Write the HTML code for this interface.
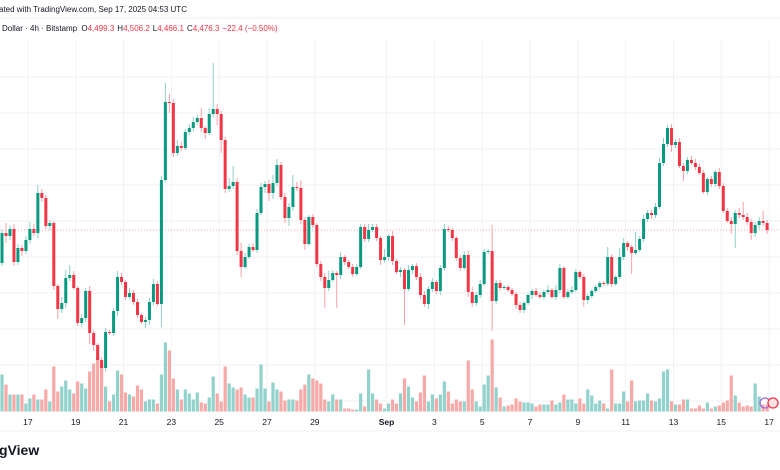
<!DOCTYPE html>
<html><head><meta charset="utf-8"><style>
html,body{margin:0;padding:0;background:#fff;}
svg{display:block;font-family:"Liberation Sans",sans-serif;}
</style></head><body>
<svg id="chart" width="780" height="470" viewBox="0 0 780 470" xmlns="http://www.w3.org/2000/svg">
<rect width="780" height="470" fill="#ffffff"/>
<g id="grid"></g>
<line x1="0" x2="780" y1="230" y2="230" stroke="#f23645" stroke-opacity="0.45" stroke-dasharray="1,2" stroke-width="1"/>
<g id="vol"></g>
<g id="candles"></g>
<g id="xaxis"></g>
<text x="-1" y="12" font-size="8" fill="#131722">ated with TradingView.com, Sep 17, 2025 04:53 UTC</text>
<line x1="0" x2="780" y1="18" y2="18" stroke="#eef0f3"/>
<text x="2" y="31" font-size="8" fill="#131722">Dollar · 4h · Bitstamp <tspan dx="2">O</tspan><tspan fill="#f23645">4,499.3</tspan><tspan dx="3">H</tspan><tspan fill="#f23645">4,506.2</tspan><tspan dx="3">L</tspan><tspan fill="#f23645">4,466.1</tspan><tspan dx="3">C</tspan><tspan fill="#f23645">4,476.3</tspan><tspan dx="3" fill="#f23645">−22.4 (−0.50%)</tspan></text>
<line x1="0" x2="780" y1="431" y2="431" stroke="#eef0f3"/>
<text x="-1" y="455" font-size="14" font-weight="bold" fill="#131722">gView</text>
<g>
<circle cx="765" cy="403" r="5" fill="none" stroke="#9c6ade" stroke-width="1.3"/>
<circle cx="773" cy="403" r="5" fill="#fbe3e4" stroke="#f23645" stroke-width="1.3"/>
</g>
</svg>
<script>
const closes=[4467,4458,4479,4380,4422,4413,4446,4479,4467,4587,
4572,4488,4497,4308,4239,4257,4332,4341,4302,4197,
4212,4293,4167,4131,4086,4062,4170,4167,4233,4335,
4320,4275,4287,4260,4221,4200,4206,4260,4314,4254,
4626,4860,4857,4707,4728,4722,4770,4782,4800,4812,
4782,4767,4824,4839,4824,4746,4599,4608,4620,4413,
4365,4395,4425,4416,4527,4605,4614,4587,4617,4671,
4575,4512,4545,4605,4602,4506,4434,4515,4491,4374,
4335,4302,4326,4347,4341,4395,4380,4365,4344,4365,
4485,4449,4476,4485,4452,4386,4395,4458,4383,4350,
4356,4299,4356,4368,4335,4281,4254,4299,4320,4293,
4362,4479,4476,4452,4392,4362,4401,4290,4257,4281,
4314,4410,4413,4263,4317,4302,4305,4296,4284,4251,
4236,4257,4281,4293,4281,4275,4290,4296,4275,4296,
4362,4275,4290,4296,4350,4335,4266,4278,4293,4305,
4317,4315,4395,4314,4335,4395,4437,4425,4407,4416,
4449,4509,4527,4521,4545,4677,4734,4782,4731,4740,
4668,4653,4686,4677,4665,4647,4590,4629,4614,4650,
4608,4533,4503,4494,4527,4521,4515,4500,4467,4491,
4503,4497,4476];
const firstOpen=4377;
const upperWick=[9,30,12,15,12,9,12,21,15,24,
12,9,9,6,6,18,24,30,12,6,
12,9,15,9,6,9,12,6,9,18,
12,6,15,9,9,6,9,12,15,9,
12,57,24,12,18,12,9,12,15,9,
30,6,18,138,15,9,9,24,48,12,
24,12,9,12,12,12,9,12,24,18,
9,12,12,36,15,24,9,6,9,6,
9,12,27,9,6,15,6,6,9,9,
9,9,18,9,9,6,24,6,15,6,
9,6,15,6,9,12,12,9,12,6,
9,15,9,6,6,9,12,12,15,9,
12,9,6,78,9,9,6,6,6,6,
9,6,6,6,9,9,6,15,6,15,
12,6,9,12,9,6,9,6,6,6,
6,6,30,9,6,27,15,6,6,54,
9,12,9,9,12,15,18,9,12,9,
12,9,9,12,12,12,9,6,9,6,
12,9,9,12,9,15,39,12,9,9,
12,30,9];
const lowerWick=[9,21,12,12,9,15,9,12,9,15,
12,9,12,12,30,12,15,9,6,9,
12,12,33,18,30,18,12,6,9,15,
9,9,6,9,9,6,18,15,9,6,
69,6,30,12,9,9,6,9,12,9,
12,18,6,9,33,39,12,9,9,12,
30,6,6,6,9,6,18,24,18,9,
9,15,24,12,9,12,18,6,9,9,
12,60,9,6,99,12,9,6,9,6,
6,9,9,6,9,15,9,12,12,6,
15,108,6,12,9,12,9,15,9,9,
12,9,6,9,9,9,6,15,12,9,
9,6,6,90,9,9,6,6,6,12,
9,9,6,12,6,6,9,6,6,9,
9,6,6,6,6,6,21,12,6,6,
6,6,6,9,6,6,9,12,63,6,
6,9,9,12,9,6,9,9,21,9,
6,30,9,6,9,6,6,9,9,9,
9,6,6,30,72,9,9,9,21,12,
12,9,12];
const volumes=[37,27,17,17,17,17,8,13,17,12,
12,22,10,45,20,25,31,22,18,30,
28,23,40,48,53,47,25,10,17,41,
37,19,17,15,26,22,10,12,12,8,
37,69,61,33,22,12,22,18,12,19,
9,8,14,35,18,10,45,28,24,22,
24,17,14,14,23,47,23,10,29,22,
20,11,12,12,11,22,27,37,33,31,
28,12,10,17,12,12,3,3,2,2,
18,5,42,18,12,8,3,8,12,8,
18,33,25,14,10,19,36,10,17,13,
17,30,20,8,12,10,10,51,22,10,
5,27,36,72,24,14,5,6,7,13,
10,9,9,8,5,7,7,7,11,7,
9,17,12,12,8,13,8,22,16,8,
11,8,3,42,8,8,20,10,31,10,
11,11,18,11,10,13,40,42,10,7,
7,12,12,3,3,6,3,9,3,5,
6,9,11,36,16,9,5,6,5,28,
15,7,7];
const dayLabels=['17','19','21','23','25','27','29','Sep','3','5','7','9','11','13','15','17'];
const dayOffsets=[0,2,4,6,8,10,12,15,17,19,21,23,25,27,29,31];
const priceGrid=[4935,4827,4719,4611,4503,4395,4287,4179,4071,3963];

const NS='http://www.w3.org/2000/svg';
function xScale(i){return 2+i*3.985;}
function yScale(p){return (5166-p)/3;}
function vScale(v){return 411.5-v;}
function dayX(d){return xScale(6.5+6*d);}
function mk(tag,attrs,parent){const e=document.createElementNS(NS,tag);for(const k in attrs)e.setAttribute(k,attrs[k]);parent.appendChild(e);return e;}

const grid=document.getElementById('grid');
priceGrid.forEach(p=>{
  const l=mk('line',{x1:0,x2:780,y1:yScale(p),y2:yScale(p),stroke:'#f0f2f5','stroke-width':1},grid);
  
  
});
const xa=document.getElementById('xaxis');
dayLabels.forEach((lab,k)=>{
  const x=dayX(dayOffsets[k]);
  const l=mk('line',{x1:x,x2:x,y1:40,y2:412,stroke:'#f0f2f5','stroke-width':1},grid);
  
  
  const t=mk('text',{x:x,y:425,'text-anchor':'middle','font-size':8.5,fill:'#131722','font-weight':lab==='Sep'?'bold':'normal'},xa);
  t.textContent=lab;
  
  
});

const cg=document.getElementById('candles');
const vg=document.getElementById('vol');
closes.forEach((c,i)=>{
  const o=i===0?firstOpen:closes[i-1];
  const up=c>=o;
  const x=xScale(i);
  const hi=Math.max(o,c)+upperWick[i];
  const lo=Math.min(o,c)-lowerWick[i];
  const vb=mk('rect',{x:x-1.6,y:vScale(volumes[i]),width:3.2,height:volumes[i],fill:up?'#92d2cc':'#f7a9a7'},vg);
  
  
  const w=mk('line',{x1:x,x2:x,y1:yScale(hi),y2:yScale(lo),stroke:up?'#8fd0c6':'#f6a2a8','stroke-width':1},cg);
  
  
  const top=yScale(Math.max(o,c)),bot=yScale(Math.min(o,c));
  const b=mk('rect',{x:x-1.5,y:top,width:3,height:Math.max(1,bot-top),fill:up?'#089981':'#f23645'},cg);
  
  
});
</script>
</body></html>
